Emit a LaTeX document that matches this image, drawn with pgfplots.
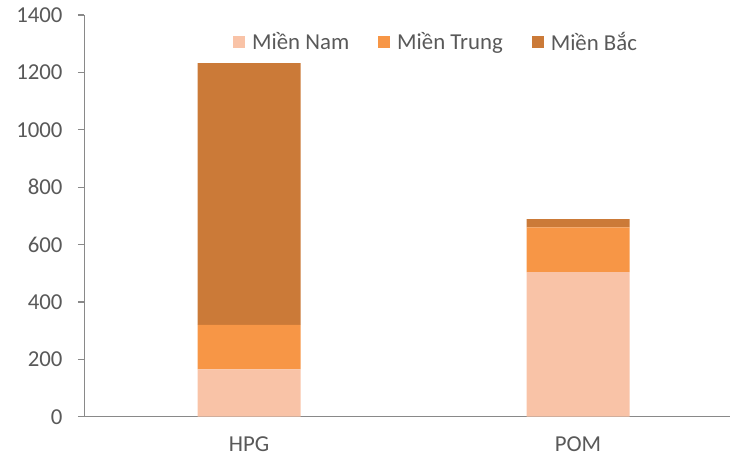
\documentclass[border=0pt]{standalone}
\usepackage{pgfplots}
\pgfplotsset{compat=1.18}
\usetikzlibrary{calc}
\usepackage{fontspec}
\setmainfont{Carlito}
\definecolor{txt}{HTML}{595959}
\definecolor{axl}{HTML}{898989}
\definecolor{cnam}{HTML}{F9C3A7}
\definecolor{ctrung}{HTML}{F79646}
\definecolor{cbac}{HTML}{CB7A38}
\begin{document}
\begin{tikzpicture}
\begin{axis}[
  name=ax,
  scale only axis,
  width=645.5bp, height=401.7bp,
  ybar stacked,
  bar width=103bp,
  xmin=-0.5, xmax=1.462,
  ymin=0, ymax=1400,
  ytick={0,200,...,1400},
  xtick={0,1},
  xticklabels={HPG,POM},
  axis x line*=bottom,
  axis y line*=left,
  axis line style={draw=axl, line width=1.3bp},
  every outer x axis line/.style={draw=axl, line width=1.3bp},
  every outer y axis line/.style={draw=axl, line width=1.3bp},
  x axis line style={-},
  y axis line style={-},
  ytick style={draw=axl, line width=1.3bp},
  xtick style={draw=none},
  tick align=outside,
  major tick length=6.5bp,
  /pgf/number format/assume math mode=true,
  /pgf/number format/1000 sep={},
  tick label style={font=\fontsize{22.8bp}{25bp}\selectfont, text=txt},
  yticklabel style={xshift=-12bp},
  xticklabel style={yshift=-10bp},
  legend style={at={(rel axis cs:0.230,0.933)}, anchor=west, draw=none, fill=none,
    inner sep=0pt, legend cell align=left,
    font=\fontsize{22.8bp}{25bp}\selectfont, text=txt,
    nodes={inner sep=0pt},
    /tikz/every odd column/.append style={column sep=7bp},
    /tikz/every even column/.append style={column sep=29bp}},
  legend columns=3,
  legend image code/.code={\fill[#1] (0bp,-6bp) rectangle (12bp,6bp);},
  clip=false,
]
\addplot[fill=cnam, draw=none] coordinates {(0,165) (1,504)};
\addplot[fill=ctrung, draw=none] coordinates {(0,155) (1,156)};
\addplot[fill=cbac, draw=none] coordinates {(0,912) (1,29)};
\legend{Miền Nam, Miền Trung, Miền Bắc}
\end{axis}
\pgfresetboundingbox
\path ($(ax.south west)+(-84.5bp,-41.3bp)$) rectangle ($(ax.north east)+(0bp,15bp)$);
\end{tikzpicture}
\end{document}
